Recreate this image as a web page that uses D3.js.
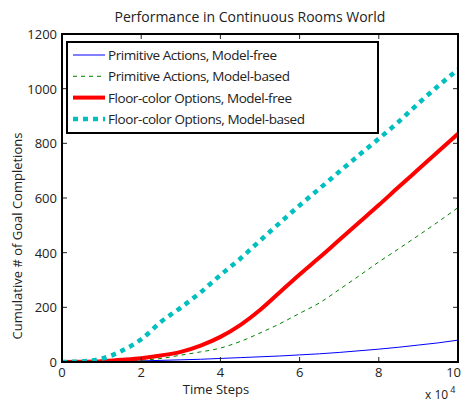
<!DOCTYPE html>
<html>
<head>
<meta charset="utf-8">
<script src="https://cdn.jsdelivr.net/npm/d3@7"></script>
<style>
  body { margin: 0; background: #fff; }
  svg text { font-family: "Open Sans", "Noto Sans", sans-serif; fill: #222; }
</style>
</head>
<body>
<svg id="chart" width="463" height="403"></svg>
<script>
// time steps (x 10^4)
var steps = [0, 0.5, 1, 1.5, 2, 2.5, 3, 3.5, 4, 4.5, 5, 5.5, 6, 6.5, 7, 7.5, 8, 8.5, 9, 9.5, 10];

var primFree  = [0, 0, 1, 2, 4, 6, 8, 10, 13, 16, 19, 22, 26, 30, 35, 41, 47, 54, 62, 70, 80];
var primBased = [0, 0, 1, 3, 6, 13, 25, 37, 51, 75, 106, 140, 178, 216, 265, 315, 366, 414, 463, 513, 565];
var optFree   = [0, 1, 3, 8, 14, 24, 37, 60, 92, 135, 190, 255, 320, 382, 446, 510, 574, 640, 705, 770, 835];
var optBased  = [0, 2, 12, 40, 83, 147, 199, 255, 318, 378, 444, 509, 573, 634, 696, 757, 817, 879, 946, 1010, 1070];

var seriesNames = [
  'Primitive Actions, Model-free',
  'Primitive Actions, Model-based',
  'Floor-color Options, Model-free',
  'Floor-color Options, Model-based'
];

var xTicks = [0, 2, 4, 6, 8, 10];
var yTicks = [0, 200, 400, 600, 800, 1000, 1200];

var styles = [
  { color: '#0000ff', width: 1, dash: null },
  { color: '#008000', width: 1, dash: '4,4' },
  { color: '#ff0000', width: 4, dash: null },
  { color: '#00bfbf', width: 4.5, dash: '5,5' }
];
// legend label widths as they appear in the figure
var legendTextLen = [169, 182, 184, 197];

var svg = d3.select('#chart');
var margin = { left: 62, right: 5, top: 34, bottom: 41 };
var width = 463 - margin.left - margin.right;
var height = 403 - margin.top - margin.bottom;

var x = d3.scaleLinear().domain([0, 10]).range([0, width]);
var y = d3.scaleLinear().domain([0, 1200]).range([height, 0]);

var g = svg.append('g').attr('transform', 'translate(' + margin.left + ',' + margin.top + ')');

// clip so thick lines don't spill over the box
svg.append('clipPath').attr('id', 'clip')
  .append('rect').attr('x', 0).attr('y', 0).attr('width', width).attr('height', height);

var allSeries = [primFree, primBased, optFree, optBased];

var line = d3.line()
  .x(function(d, i) { return x(steps[i]); })
  .y(function(d) { return y(d); })
  .curve(d3.curveMonotoneX);

var lines = g.append('g').attr('clip-path', 'url(#clip)');
allSeries.forEach(function(s, i) {
  lines.append('path')
    .datum(s)
    .attr('d', line)
    .attr('fill', 'none')
    .attr('stroke', styles[i].color)
    .attr('stroke-width', styles[i].width)
    .attr('stroke-dasharray', styles[i].dash);
});

// axes, ticks inward on all four sides
var tickLen = 5;
var ticksG = g.append('g').attr('stroke', '#222').attr('stroke-width', 1);
xTicks.slice(1, -1).forEach(function(t) {
  ticksG.append('line').attr('x1', x(t)).attr('x2', x(t)).attr('y1', height).attr('y2', height - tickLen);
  ticksG.append('line').attr('x1', x(t)).attr('x2', x(t)).attr('y1', 0).attr('y2', tickLen);
});
yTicks.slice(1, -1).forEach(function(t) {
  ticksG.append('line').attr('x1', 0).attr('x2', tickLen).attr('y1', y(t)).attr('y2', y(t));
  ticksG.append('line').attr('x1', width).attr('x2', width - tickLen).attr('y1', y(t)).attr('y2', y(t));
});

g.append('rect')
  .attr('x', 0).attr('y', 0).attr('width', width).attr('height', height)
  .attr('fill', 'none').attr('stroke', '#000').attr('stroke-width', 2);

g.selectAll('.xlab')
  .data(xTicks)
  .enter()
  .append('text')
  .attr('x', function(d) { return d == 10 ? x(d) + 3 : x(d); })
  .attr('y', height + 15)
  .attr('text-anchor', function(d) { return d == 10 ? 'end' : 'middle'; })
  .attr('font-size', 13)
  .text(function(d) { return d; });

g.selectAll('.ylab')
  .data(yTicks)
  .enter()
  .append('text')
  .attr('x', -5)
  .attr('y', function(d) { return y(d) + 5; })
  .attr('text-anchor', 'end')
  .attr('font-size', 13)
  .text(function(d) { return d; });

svg.append('text')
  .attr('x', 250).attr('y', 22)
  .attr('text-anchor', 'middle')
  .attr('font-size', 14)
  .text('Performance in Continuous Rooms World');

svg.append('text')
  .attr('x', 216).attr('y', 394)
  .attr('text-anchor', 'middle')
  .attr('font-size', 13)
  .text('Time Steps');

var sci = svg.append('text')
  .attr('x', 425).attr('y', 399)
  .attr('font-size', 12);
sci.append('tspan').text('x 10');
sci.append('tspan').attr('dy', -6).attr('dx', 2).attr('font-size', 9).text('4');

svg.append('text')
  .attr('transform', 'translate(22,236) rotate(-90)')
  .attr('text-anchor', 'middle')
  .attr('font-size', 13)
  .text('Cumulative # of Goal Completions');

// legend
var legend = svg.append('g').attr('transform', 'translate(67,42)');
legend.append('rect')
  .attr('width', 311).attr('height', 91)
  .attr('fill', '#fff').attr('stroke', '#000').attr('stroke-width', 2);

seriesNames.forEach(function(name, i) {
  var ly = 13 + i * 21.3;
  legend.append('line')
    .attr('x1', 6).attr('x2', 38)
    .attr('y1', ly).attr('y2', ly)
    .attr('stroke', styles[i].color)
    .attr('stroke-width', styles[i].width)
    .attr('stroke-dasharray', styles[i].dash);
  legend.append('text')
    .attr('x', 41).attr('y', ly + 5)
    .attr('font-size', 13.5)
    .attr('textLength', legendTextLen[i])
    .attr('lengthAdjust', 'spacing')
    .text(name);
});
</script>
</body>
</html>
